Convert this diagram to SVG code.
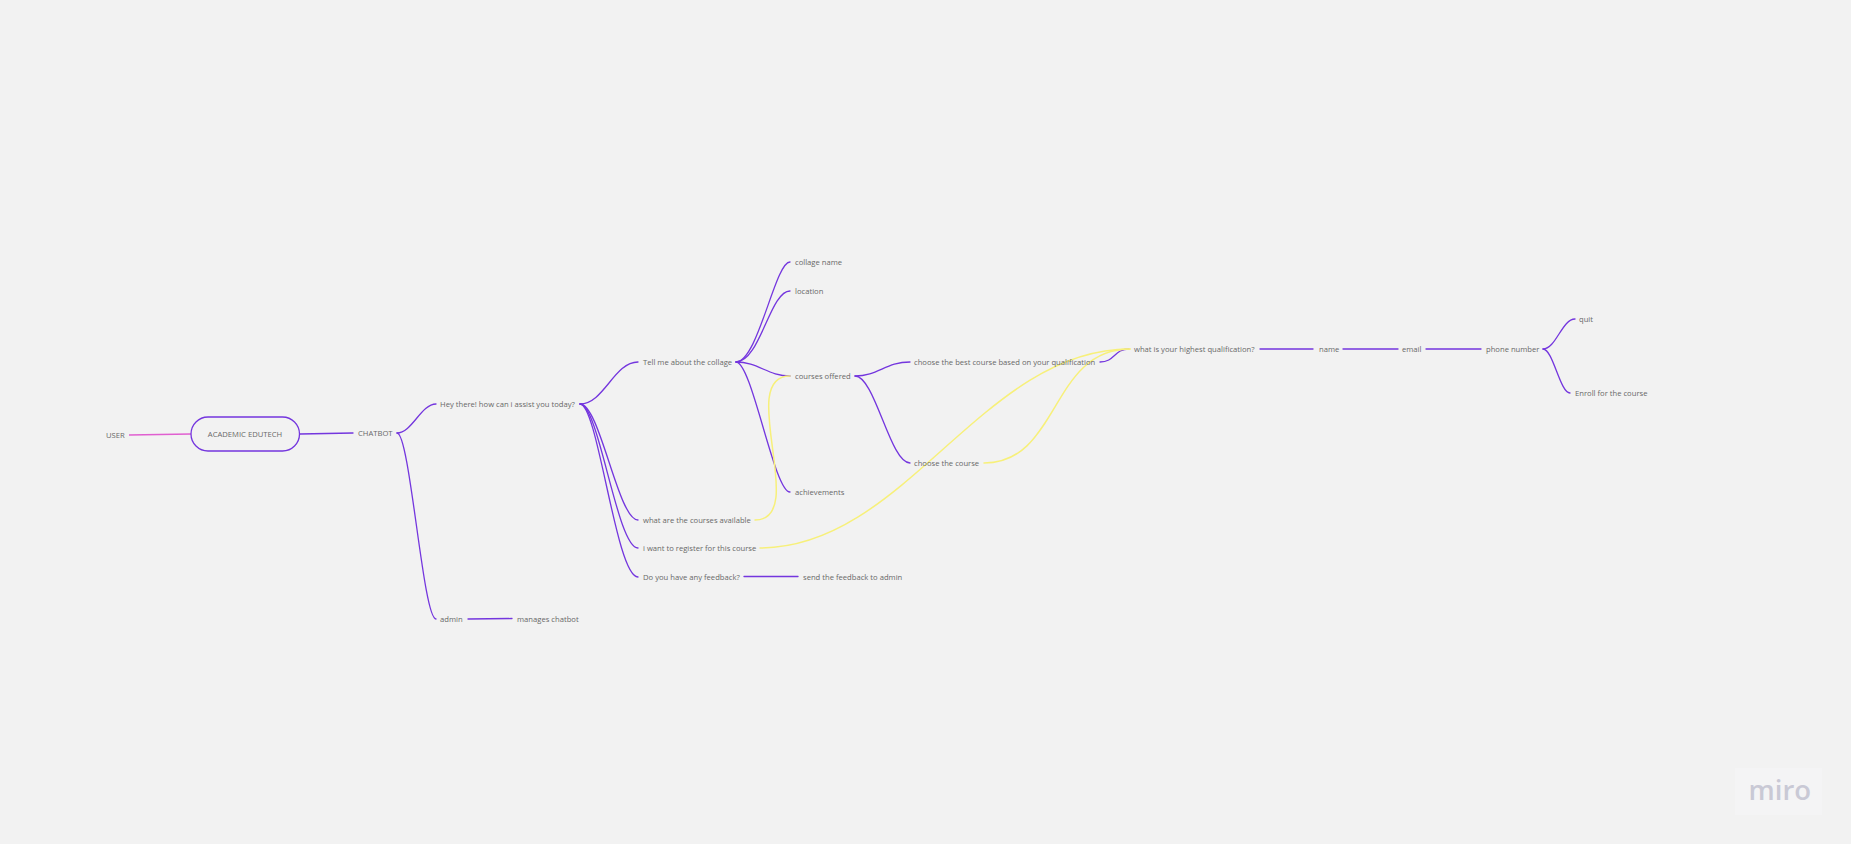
<svg xmlns="http://www.w3.org/2000/svg" width="1851" height="844" viewBox="0 0 1851 844">
<style>
text{font-family:"Open Sans","Noto Sans","Liberation Sans",sans-serif;font-size:7.65px;fill:#686868}
.c{fill:none;stroke:#7436de;stroke-width:1.3;stroke-linecap:round}
.y{fill:none;stroke:#f7f07a;stroke-width:1.5;stroke-linecap:round}
</style>
<rect width="1851" height="844" fill="#f2f2f2"/>
<g id="connectors">
<path d="M129 435L191 434" fill="none" stroke="#e05fd0" stroke-width="1.3"/>
<path class="c" d="M300 434L353 433"/>
<path class="c" d="M397 433C412 433 421 404 436 404"/>
<path class="c" d="M397 433C410 433 423 619 436 619"/>
<path class="c" d="M468 619L512 618.500"/>
<path class="c" d="M580 404C604 404 614 362 638 362"/>
<path class="c" d="M580 404C600 404 618 520 638 520"/>
<path class="c" d="M580 404C599 404 617 548 638 548"/>
<path class="c" d="M580 404C598 404 616 577 638 577"/>
<path class="c" d="M744 576.500L798 576.500"/>
<path class="c" d="M736 362C758 362 775 262 790 262"/>
<path class="c" d="M736 362C760 362 770 291 790 291"/>
<path class="c" d="M736 362C758 362 768 376 790 376"/>
<path class="c" d="M736 362C752 362 774 492 790 492"/>
<path class="c" d="M855 376C878 376 886 362 910 362"/>
<path class="c" d="M855 376C875 376 890 463 910 463"/>
<path class="c" d="M1100 362C1115 362 1114 349 1129 349"/>
<path class="c" d="M1260 349L1313 349"/>
<path class="c" d="M1343 349L1398 349"/>
<path class="c" d="M1426 349L1481 349"/>
<path class="c" d="M1543 349C1556 349 1562 319 1575 319"/>
<path class="c" d="M1543 349C1553 349 1560 393 1570 393"/>
<path class="y" d="M755 520C810 520 735 376 790 376"/>
<path class="y" d="M760 548C905 548 982 349 1130 349"/>
<path class="y" d="M984 463C1060 463 1050 349 1130 349"/>
</g>
<g id="node-user"><text x="106" y="438">USER</text></g>
<g id="node-academic"><rect x="191" y="417" width="108.500" height="34" rx="17" fill="none" stroke="#7436de" stroke-width="1.3"/><text x="245" y="437" text-anchor="middle">ACADEMIC EDUTECH</text></g>
<g id="node-chatbot"><text x="358" y="436">CHATBOT</text></g>
<g id="node-hey"><text x="440" y="407">Hey there! how can i assist you today?</text></g>
<g id="node-admin"><text x="440" y="622">admin</text></g>
<g id="node-manages"><text x="517" y="622">manages chatbot</text></g>
<g id="node-tell"><text x="643" y="365">Tell me about the collage</text></g>
<g id="node-available"><text x="643" y="523">what are the courses available</text></g>
<g id="node-register"><text x="643" y="551">i want to register for this course</text></g>
<g id="node-feedback"><text x="643" y="580">Do you have any feedback?</text></g>
<g id="node-send"><text x="803" y="580">send the feedback to admin</text></g>
<g id="node-collage-name"><text x="795" y="265">collage name</text></g>
<g id="node-location"><text x="795" y="293.500">location</text></g>
<g id="node-courses"><text x="795" y="379">courses offered</text></g>
<g id="node-achievements"><text x="795" y="495">achievements</text></g>
<g id="node-best"><text x="914" y="365">choose the best course based on your qualification</text></g>
<g id="node-choose"><text x="914" y="466">choose the course</text></g>
<g id="node-highest"><text x="1134" y="352">what is your highest qualification?</text></g>
<g id="node-name"><text x="1319" y="352">name</text></g>
<g id="node-email"><text x="1402" y="352">email</text></g>
<g id="node-phone"><text x="1486" y="352">phone number</text></g>
<g id="node-quit"><text x="1579" y="321.500">quit</text></g>
<g id="node-enroll"><text x="1575" y="396">Enroll for the course</text></g>
<g id="logo"><rect x="1735" y="768" width="87" height="47" fill="#f4f4f5"/><text x="1748.500" y="800" style="font-family:'Open Sans',sans-serif;font-size:27.500px;font-weight:600;fill:#c9c9d5">miro</text></g>
</svg>
